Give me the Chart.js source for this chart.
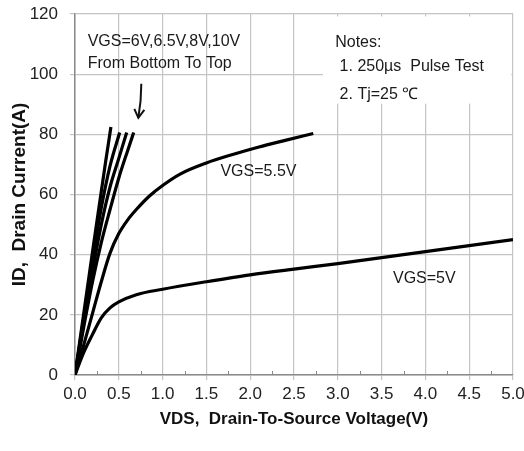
<!DOCTYPE html>
<html lang="en">
<head>
<meta charset="UTF-8" />
<title>Output Characteristics</title>
<script src="https://cdn.jsdelivr.net/npm/chart.js"></script>
<style>
  * { margin: 0; padding: 0; box-sizing: border-box; }
  body { background: #ffffff; overflow: hidden; }
  .wrap { position: relative; width: 524px; height: 451px; }
</style>
</head>
<body>
<div class="wrap"><canvas id="ivChart" width="524" height="451"></canvas></div>
<script>
// Drain current (A) against drain-source voltage (V), one curve per gate voltage
const vds5 = [0, 0.1, 0.2, 0.3, 0.4, 0.5, 0.7, 1.0, 1.5, 2.0, 2.5, 3.0, 3.5, 4.0, 4.5, 5.0];
const id5 = [0, 7.5, 13.5, 19, 22.3, 24.3, 26.7, 28.5, 31, 33.3, 35.2, 37, 39, 41, 43, 45];

const vds55 = [0, 0.1, 0.2, 0.3, 0.4, 0.5, 0.6, 0.7, 0.85, 1.0, 1.2, 1.5, 1.8, 2.1, 2.4, 2.72];
const id55 = [0, 10, 20.5, 31, 40.5, 47, 51.5, 55, 59.5, 63, 66.8, 70.5, 73.3, 75.8, 78, 80.3];

const vds6 = [0, 0.1, 0.2, 0.3, 0.4, 0.5, 0.6, 0.67];
const id6 = [0, 16, 31, 44, 55, 65.5, 74.5, 80.6];

const vds65 = [0, 0.1, 0.2, 0.3, 0.4, 0.5, 0.59];
const id65 = [0, 17.5, 34.5, 50, 62.5, 72, 80.6];

const vds8 = [0, 0.1, 0.2, 0.3, 0.4, 0.51];
const id8 = [0, 19, 38, 55.5, 69.5, 80.6];

const vds10 = [0, 0.1, 0.2, 0.3, 0.35, 0.41];
const id10 = [0, 20.5, 41, 61, 71, 82.4];

const xTicks = [0, 0.5, 1.0, 1.5, 2.0, 2.5, 3.0, 3.5, 4.0, 4.5, 5.0];
const yTicks = [0, 20, 40, 60, 80, 100, 120];

const toPoints = (xs, ys) => xs.map((x, i) => ({ x: x, y: ys[i] }));

const series = [
  [vds5, id5], [vds55, id55], [vds6, id6],
  [vds65, id65], [vds8, id8], [vds10, id10]
];

const FONT = "'Liberation Sans', Arial, sans-serif";

// labels, notes box, arrow and minor ticks
const notesPlugin = {
  id: 'notes',
  afterDatasetsDraw(chart) {
    const ctx = chart.ctx;
    const xs = chart.scales.x, ys = chart.scales.y;
    const px = v => xs.getPixelForValue(v);
    const py = v => ys.getPixelForValue(v);
    ctx.save();

    // minor ticks on the voltage axis
    ctx.strokeStyle = '#888';
    ctx.lineWidth = 1;
    for (let v = 0.25; v < 5; v += 0.5) {
      ctx.beginPath();
      ctx.moveTo(Math.round(px(v)) + 0.5, py(0));
      ctx.lineTo(Math.round(px(v)) + 0.5, py(0) - 4);
      ctx.stroke();
    }

    // white box behind the notes
    ctx.fillStyle = '#ffffff';
    ctx.fillRect(px(2.83), py(119.2), px(4.98) - px(2.83), py(90.2) - py(119.2));

    ctx.fillStyle = '#1a1a1a';
    ctx.font = '16px ' + FONT;
    ctx.textAlign = 'left';
    ctx.textBaseline = 'alphabetic';
    ctx.fillText('VGS=6V,6.5V,8V,10V', px(0.145), py(109.3));
    ctx.fillText('From Bottom To Top', px(0.145), py(102));
    ctx.fillText('Notes:', px(2.97), py(109));
    ctx.fillText(' 1. 250µs  Pulse Test', px(2.97), py(101));
    ctx.fillText(' 2. Tj=25 ℃', px(2.97), py(91.8));
    ctx.fillText('VGS=5.5V', px(1.66), py(66.2));
    ctx.fillText('VGS=5V', px(3.63), py(30.5));

    // arrow pointing at the steep curves
    const ax = px(0.757), ay = py(96.8);
    const bx = px(0.723), by = py(85.5);
    ctx.strokeStyle = '#111';
    ctx.lineWidth = 2;
    ctx.beginPath();
    ctx.moveTo(ax, ay);
    ctx.quadraticCurveTo(ax, (ay + by) / 2, bx, by);
    ctx.stroke();
    ctx.beginPath();
    ctx.moveTo(bx - 4, by - 9);
    ctx.lineTo(bx, by);
    ctx.lineTo(bx + 6, by - 8);
    ctx.stroke();

    ctx.restore();
  }
};

new Chart(document.getElementById('ivChart'), {
  type: 'scatter',
  data: {
    datasets: series.map(([xs, ys]) => ({
      data: toPoints(xs, ys),
      showLine: true,
      borderColor: '#000000',
      borderWidth: 3.2,
      pointRadius: 0,
      cubicInterpolationMode: 'monotone'
    }))
  },
  options: {
    responsive: false,
    animation: false,
    events: [],
    layout: { padding: { top: 14, right: 11, left: 0, bottom: 0 } },
    plugins: { legend: { display: false }, tooltip: { enabled: false } },
    scales: {
      x: {
        type: 'linear',
        min: 0,
        max: 5,
        afterBuildTicks: s => { s.ticks = xTicks.map(v => ({ value: v })); },
        afterFit: s => { s.height = 76; s.paddingLeft = 0; s.paddingRight = 0; },
        ticks: {
          callback: v => v.toFixed(1),
          color: '#222',
          font: { family: FONT, size: 17 },
          padding: 4,
          maxRotation: 0,
          autoSkip: false
        },
        grid: { color: '#c4c4c4', lineWidth: 1.2, tickLength: 5 },
        border: { color: '#8a8a8a', width: 1.5 },
        title: {
          display: true,
          text: 'VDS,  Drain-To-Source Voltage(V)',
          color: '#111',
          font: { family: FONT, size: 17, weight: 'bold' },
          padding: 21
        }
      },
      y: {
        min: 0,
        max: 120,
        afterBuildTicks: s => { s.ticks = yTicks.map(v => ({ value: v })); },
        afterFit: s => { s.width = 75; s.paddingTop = 0; s.paddingBottom = 0; },
        ticks: {
          color: '#222',
          font: { family: FONT, size: 17 },
          padding: 12
        },
        grid: { color: '#c4c4c4', lineWidth: 1.2, tickLength: 5 },
        border: { color: '#8a8a8a', width: 1.5 },
        title: {
          display: true,
          text: 'ID,  Drain Current(A)',
          color: '#111',
          font: { family: FONT, size: 19, weight: 'bold' },
          padding: 8
        }
      }
    }
  },
  plugins: [notesPlugin]
});
</script>
</body>
</html>
